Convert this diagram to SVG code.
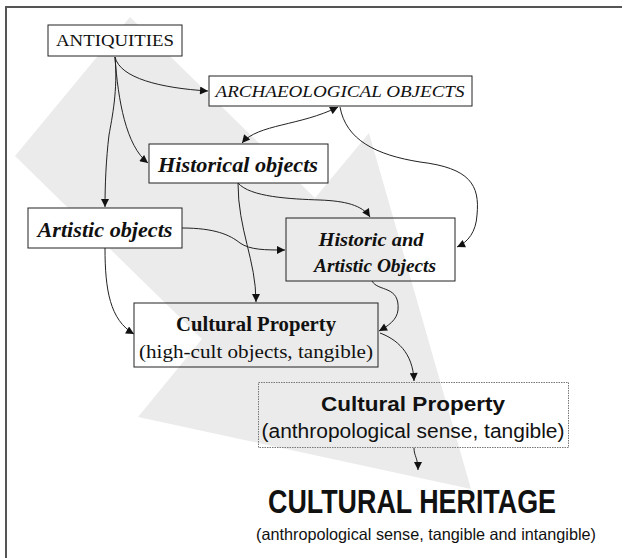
<svg xmlns="http://www.w3.org/2000/svg" width="631" height="558" viewBox="0 0 631 558">
<defs>
<style>
.box{fill:#fff;stroke:#222;stroke-width:1}
.tbox{fill:none;stroke:#222;stroke-width:1}
.dbox{fill:none;stroke:#777;stroke-width:1;stroke-dasharray:1.5 1}
.con{fill:none;stroke:#222;stroke-width:1}
.serif{font-family:"Liberation Serif","Times New Roman",serif;fill:#111}
.sans{font-family:"Liberation Sans",Arial,sans-serif;fill:#111}
</style>
<marker id="ah" viewBox="0 0 10 10" refX="10" refY="5" markerWidth="10" markerHeight="8" markerUnits="userSpaceOnUse" orient="auto-start-reverse">
<path d="M0,0 L10,5 L0,10 z" fill="#111"/>
</marker>
</defs>
<rect width="631" height="558" fill="#fff"/>
<polyline points="6,558 6,7 622,7" fill="none" stroke="#555" stroke-width="2"/>
<polygon id="big-arrow" points="130,17 315,198 369,133 471,489 138,417 202,339 15,156" fill="#ebebeb"/>

<g id="connectors">
<path class="con" d="M115,57 C120,78 160,88 208,91" marker-end="url(#ah)"/>
<path class="con" d="M115,57 C118,100 126,146 148,163" marker-end="url(#ah)"/>
<path class="con" d="M115,57 C118,90 112,118 109,135 C106,160 105,185 105,207" marker-end="url(#ah)"/>
<path class="con" d="M242,143 C258,124 300,126 338,107" marker-start="url(#ah)" marker-end="url(#ah)"/>
<path class="con" d="M340,107 C346,140 376,155 420,162 C470,168 480,185 477,215 C476,232 468,242 457,247" marker-end="url(#ah)"/>
<path class="con" d="M238,183 C250,197 290,199 320,200 C345,201 362,205 370,217" marker-end="url(#ah)"/>
<path class="con" d="M238,183 C238,230 256,260 256,302" marker-end="url(#ah)"/>
<path class="con" d="M182,228 C215,228 230,235 240,243 C250,250 265,250 285,250" marker-end="url(#ah)"/>
<path class="con" d="M105,248 C105,290 110,320 134,334" marker-end="url(#ah)"/>
<path class="con" d="M372,281 C378,292 400,285 398,310 C397,320 388,326 379,331" marker-end="url(#ah)"/>
<path class="con" d="M380,333 C396,339 413,352 414,381" marker-end="url(#ah)"/>
<path class="con" d="M414,448 C414,456 418,458 418,470" marker-end="url(#ah)"/>
</g>

<g id="antiquities">
<rect class="box" x="48" y="25" width="134" height="31"/>
<text class="serif" x="115" y="46" font-size="16" text-anchor="middle" textLength="118" lengthAdjust="spacingAndGlyphs">ANTIQUITIES</text>
</g>
<g id="archaeological">
<rect class="box" x="209" y="76" width="263" height="30"/>
<text class="serif" x="340" y="97" font-size="16" font-style="italic" text-anchor="middle" textLength="249" lengthAdjust="spacingAndGlyphs">ARCHAEOLOGICAL OBJECTS</text>
</g>
<g id="historical">
<rect class="box" x="149" y="144" width="179" height="39"/>
<text class="serif" x="238" y="172" font-size="22" font-style="italic" font-weight="bold" text-anchor="middle" textLength="160" lengthAdjust="spacingAndGlyphs">Historical objects</text>
</g>
<g id="artistic">
<rect class="box" x="28" y="208" width="154" height="40"/>
<text class="serif" x="105" y="237" font-size="22" font-style="italic" font-weight="bold" text-anchor="middle" textLength="135" lengthAdjust="spacingAndGlyphs">Artistic objects</text>
</g>
<g id="historic-artistic">
<rect class="tbox" x="286" y="218" width="169" height="63"/>
<text class="serif" x="371" y="246" font-size="19.5" font-style="italic" font-weight="bold" text-anchor="middle" textLength="105" lengthAdjust="spacingAndGlyphs">Historic and</text>
<text class="serif" x="375" y="272" font-size="19.5" font-style="italic" font-weight="bold" text-anchor="middle" textLength="122" lengthAdjust="spacingAndGlyphs">Artistic Objects</text>
</g>
<g id="cultural-property-high">
<rect class="tbox" x="134" y="303" width="244" height="64"/>
<text class="serif" x="256" y="331" font-size="20" font-weight="bold" text-anchor="middle" textLength="160" lengthAdjust="spacingAndGlyphs">Cultural Property</text>
<text class="serif" x="256" y="358" font-size="19" text-anchor="middle" textLength="234" lengthAdjust="spacingAndGlyphs">(high-cult objects, tangible)</text>
</g>
<g id="cultural-property-anthro">
<rect class="dbox" x="258.5" y="382.5" width="310" height="65"/>
<text class="sans" x="413" y="411" font-size="21" font-weight="bold" text-anchor="middle" textLength="184" lengthAdjust="spacingAndGlyphs">Cultural Property</text>
<text class="sans" x="413" y="438" font-size="20" text-anchor="middle" textLength="303" lengthAdjust="spacingAndGlyphs">(anthropological sense, tangible)</text>
</g>
<g id="cultural-heritage">
<text class="sans" x="412" y="513" font-size="34" font-weight="bold" text-anchor="middle" textLength="288" lengthAdjust="spacingAndGlyphs">CULTURAL HERITAGE</text>
<text class="sans" x="426" y="540" font-size="16.5" text-anchor="middle" textLength="340" lengthAdjust="spacingAndGlyphs">(anthropological sense, tangible and intangible)</text>
</g>
</svg>
